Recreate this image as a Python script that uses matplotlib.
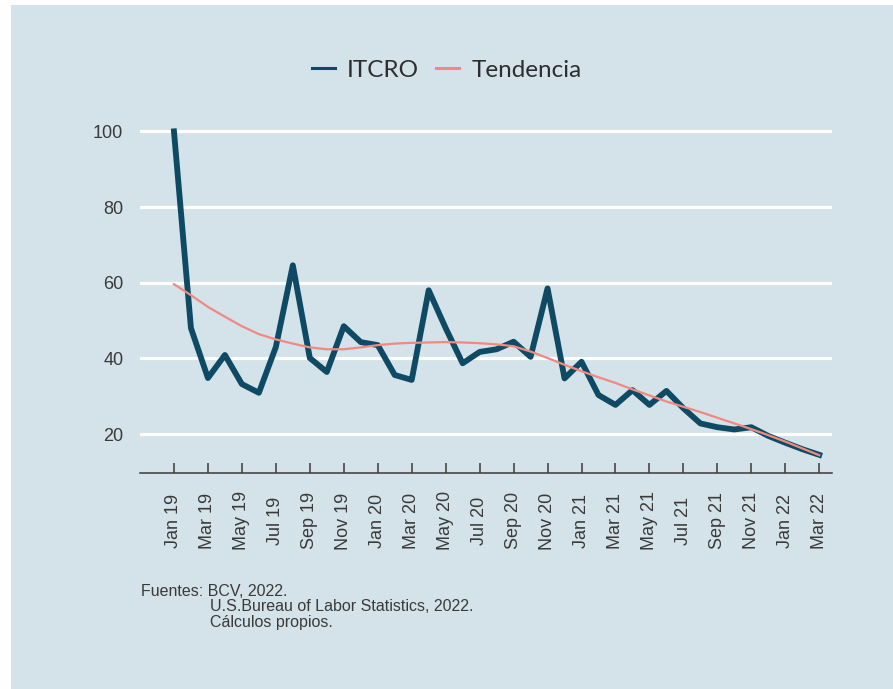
import matplotlib
matplotlib.use("agg")
import matplotlib.pyplot as plt
from matplotlib.patches import Rectangle

## Datos mensuales Jan 19 - Mar 22
meses = ["Jan 19", "Feb 19", "Mar 19", "Apr 19", "May 19", "Jun 19", "Jul 19", "Aug 19",
         "Sep 19", "Oct 19", "Nov 19", "Dec 19", "Jan 20", "Feb 20", "Mar 20", "Apr 20",
         "May 20", "Jun 20", "Jul 20", "Aug 20", "Sep 20", "Oct 20", "Nov 20", "Dec 20",
         "Jan 21", "Feb 21", "Mar 21", "Apr 21", "May 21", "Jun 21", "Jul 21", "Aug 21",
         "Sep 21", "Oct 21", "Nov 21", "Dec 21", "Jan 22", "Feb 22", "Mar 22"]

itcro = [100.0, 48.0, 34.8, 40.9, 33.2, 30.9, 43.0, 64.6, 40.1, 36.4, 48.5, 44.3, 43.5,
         35.6, 34.3, 58.0, 48.0, 38.7, 41.7, 42.4, 44.4, 40.4, 58.5, 34.7, 39.1, 30.3,
         27.7, 31.6, 27.7, 31.4, 26.8, 22.8, 21.8, 21.2, 21.8, 19.5, 17.7, 16.0, 14.5]

tendencia = [59.6, 56.7, 53.6, 51.0, 48.5, 46.4, 45.0, 43.9, 42.9, 42.4, 42.4, 42.9, 43.5,
             43.9, 44.1, 44.2, 44.3, 44.2, 44.0, 43.7, 43.2, 41.8, 40.1, 38.3, 36.6, 35.0,
             33.5, 31.8, 30.2, 28.6, 27.2, 25.8, 24.3, 22.8, 21.3, 19.7, 18.0, 16.2, 14.4]

y_ticks = [20, 40, 60, 80, 100]

fondo = "#d4e2ea"
gris = "#3a3a3a"

fig = plt.figure(figsize=(8.93, 6.89), dpi=100)
fig.patch.set_facecolor("white")
## fondo celeste con un borde blanco arriba y a la izquierda
fig.patches.append(Rectangle((11 / 893, 0), 1, 1 - 5 / 689, transform=fig.transFigure,
                             facecolor=fondo, edgecolor="none", zorder=-10))

ax = fig.add_axes([140 / 893, 1 - 473 / 689, 692 / 893, (473 - 120) / 689])
ax.set_facecolor(fondo)

x = list(range(len(meses)))
ax.plot(x, itcro, color="#0e4a63", lw=4.2, label="ITCRO", zorder=3)
ax.plot(x, tendencia, color="#f08a80", lw=1.6, label="Tendencia", zorder=4)

ax.set_xlim(-2.0, 38.75)
ax.set_ylim(9.7, 103)

## rejilla blanca
ax.set_yticks(y_ticks)
ax.yaxis.grid(True, color="white", lw=2.3)
ax.set_axisbelow(True)
ax.tick_params(axis="y", length=0, pad=12, labelsize=13, labelcolor=gris)

ax.set_xticks(x[::2])
ax.set_xticklabels(meses[::2], rotation=90)
ax.tick_params(axis="x", direction="in", length=7, width=1.1, color=gris,
               pad=34.5, labelsize=13, labelcolor=gris)
for lab in ax.get_xticklabels():
    lab.set_va("center")

for s in ["left", "top", "right"]:
    ax.spines[s].set_visible(False)
ax.spines["bottom"].set_color(gris)
ax.spines["bottom"].set_linewidth(1.1)

for lab in ax.get_xticklabels() + ax.get_yticklabels():
    lab.set_family("Liberation Sans")

leg = fig.legend(loc="center", bbox_to_anchor=(0.5, 1 - 70 / 689), ncol=2, frameon=False,
                 handlelength=0.95, handletextpad=0.5, columnspacing=0.7,
                 prop={"family": "Lato", "size": 17.5})
for t in leg.get_texts():
    t.set_color("#2e2e2e")
for h in leg.legend_handles:
    h.set_linewidth(2.2)

## fuentes
fig.text(141 / 893, 1 - 591 / 689, "Fuentes: BCV, 2022.", fontsize=11.5,
         family="Liberation Sans", color=gris, va="center")
fig.text(210 / 893, 1 - 606.5 / 689, "U.S.Bureau of Labor Statistics, 2022.", fontsize=11.5,
         family="Liberation Sans", color=gris, va="center")
fig.text(210 / 893, 1 - 622 / 689, "Cálculos propios.", fontsize=11.5,
         family="Liberation Sans", color=gris, va="center")

fig.savefig("out.png", dpi=100, facecolor=fig.get_facecolor())
